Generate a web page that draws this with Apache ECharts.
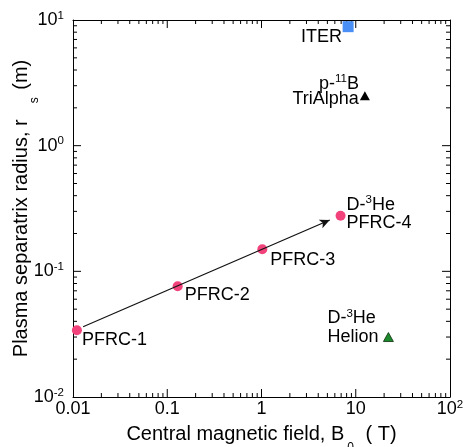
<!DOCTYPE html>
<html>
<head>
<meta charset="utf-8">
<script src="https://cdn.jsdelivr.net/npm/echarts@6/dist/echarts.min.js"></script>
<style>
html, body { margin: 0; padding: 0; background: #fff; }
#chart { width: 463px; height: 447px; }
</style>
</head>
<body>
<div id="chart"></div>
<script>
// values (B0 in T, rs in m)
const pfrcNames = ['PFRC-1', 'PFRC-2', 'PFRC-3', 'PFRC-4'];
const pfrcB = [0.011, 0.129, 1.02, 6.9];
const pfrcR = [0.034, 0.076, 0.150, 0.277];
const iterB = [8.3];
const iterR = [8.85];
const triAlphaB = [12.5];
const triAlphaR = [2.5];
const helionB = [22.2];
const helionR = [0.030];
const arrowB = [0.0128, 5.3];
const arrowR = [0.0362, 0.256];

const xMajor = [0.01, 0.1, 1, 10, 100];
const xTickText = ['0.01', '0.1', '1', '10', '10'];
const xTickSup = ['', '', '', '', '2'];
const yMajor = [0.01, 0.1, 1, 10];
const yTickText = ['10', '10', '10', '10'];
const yTickSup = ['-2', '-1', '0', '1'];

const FONT = 'Liberation Sans, Arial, Helvetica, sans-serif';
const W = 463, H = 447;
const grid = { left: 73, right: 13, top: 20, bottom: 50 };
const pxPerDecX = (W - grid.left - grid.right) / 4;
const pxPerDecY = (H - grid.top - grid.bottom) / 3;

function minorTicks(lo, hi) {
    const out = [];
    for (let d = lo; d < hi * 0.999; d *= 10) {
        for (let m = 2; m <= 9; m++) out.push(+(d * m).toPrecision(3));
    }
    return out;
}

const rich = {
    b: { fontSize: 18, lineHeight: 21, verticalAlign: 'middle', fontFamily: FONT, color: '#000' },
    c: { fontSize: 18, lineHeight: 16, verticalAlign: 'middle', fontFamily: FONT, color: '#000' },
    d: { fontSize: 18, lineHeight: 10, verticalAlign: 'middle', fontFamily: FONT, color: '#000' },
    t: { fontSize: 20, lineHeight: 40, verticalAlign: 'middle', fontFamily: FONT, color: '#000' },
    sup: { fontSize: 11.5, lineHeight: 12, verticalAlign: 'top', fontFamily: FONT, color: '#000' },
    subx: { fontSize: 12, lineHeight: 12, padding: [0, 6, 0, 3], verticalAlign: 'bottom', fontFamily: FONT, color: '#000' },
    suby: { fontSize: 12, lineHeight: 12, padding: [0, 2, 0, 16], verticalAlign: 'bottom', fontFamily: FONT, color: '#000' }
};

function pick(list, vals, v) {
    let best = 0;
    vals.forEach((t, i) => {
        if (Math.abs(Math.log10(t) - Math.log10(v)) < Math.abs(Math.log10(vals[best]) - Math.log10(v))) best = i;
    });
    return list[best];
}
function tickLabel(texts, sups, vals) {
    return v => {
        const t = pick(texts, vals, v), s = pick(sups, vals, v);
        return '{b|' + t + '}' + (s ? '{sup|' + s + '}' : '');
    };
}

const black = '#000';

function xAx(pos, labels) {
    return {
        type: 'log', logBase: 10, min: 0.01, max: 100, position: pos,
        axisLine: { show: true, onZero: false, lineStyle: { color: black, width: 1 } },
        axisTick: { show: false },
        axisLabel: labels ? { show: true, margin: 2, formatter: tickLabel(xTickText, xTickSup, xMajor), rich: rich,
            showMinLabel: true, showMaxLabel: true, hideOverlap: false } : { show: false },
        splitLine: { show: false },
        name: labels ? '{t|Central magnetic field, B}{subx|0}{t| ( T)}' : '',
        nameLocation: 'middle', nameGap: 17, nameMoveOverlap: false,
        nameTextStyle: { rich: rich }
    };
}
function yAx(pos, labels) {
    return {
        type: 'log', logBase: 10, min: 0.01, max: 10, position: pos,
        axisLine: { show: true, onZero: false, lineStyle: { color: black, width: 1 } },
        axisTick: { show: false },
        axisLabel: labels ? { show: true, margin: 9, formatter: tickLabel(yTickText, yTickSup, yMajor), rich: rich,
            showMinLabel: true, showMaxLabel: true, hideOverlap: false } : { show: false },
        splitLine: { show: false },
        name: labels ? '{t|Plasma separatrix radius, r}{suby|s}{t| (m)}' : '',
        nameLocation: 'middle', nameGap: 32, nameRotate: 90, nameMoveOverlap: false,
        nameTextStyle: { rich: rich }
    };
}

// inward ticks on all four sides, drawn as broken line segments on the log scales
function tickSeries(values, dim, lenPx) {
    const out = [];
    if (dim === 'x') {
        const f = Math.pow(10, lenPx / pxPerDecY);
        values.forEach(v => { out.push([v, 0.01], [v, 0.01 * f], [v, '-'], [v, 10], [v, 10 / f], [v, '-']); });
    } else {
        const f = Math.pow(10, lenPx / pxPerDecX);
        values.forEach(v => { out.push([0.01, v], [0.01 * f, v], ['-', v], [100, v], [100 / f, v], ['-', v]); });
    }
    return {
        type: 'line', data: out, symbol: 'none', showSymbol: false, connectNulls: false,
        silent: true, clip: false, z: 1,
        lineStyle: { color: black, width: 1 }
    };
}

const chart = echarts.init(document.getElementById('chart'), null, { renderer: 'canvas' });

const pfrcOffsets = [[5, 10], [7, 9], [8, 11], [6, -3]];
const pfrcData = pfrcB.map((b, i) => ({
    value: [b, pfrcR[i]],
    label: {
        show: true, position: 'inside', align: 'left', verticalAlign: 'middle', offset: pfrcOffsets[i],
        formatter: i === 3 ? '{b|D-}{sup|3}{b|He}\n{c|' + pfrcNames[i] + '}' : '{c|' + pfrcNames[i] + '}',
        rich: rich
    }
}));

const option = {
    animation: false,
    textStyle: { fontFamily: FONT },
    grid: Object.assign({ containLabel: false, outerBoundsMode: 'none' }, grid),
    xAxis: [xAx('bottom', true), xAx('top', false)],
    yAxis: [yAx('left', true), yAx('right', false)],
    series: [
        tickSeries(xMajor.slice(1, -1), 'x', 8),
        tickSeries(minorTicks(0.01, 100), 'x', 4),
        tickSeries(yMajor.slice(1, -1), 'y', 8),
        tickSeries(minorTicks(0.01, 10), 'y', 4),
        {
            type: 'line', data: [], silent: true,
            markLine: {
                silent: true, symbol: ['none', 'arrow'], symbolSize: [7, 10],
                lineStyle: { color: '#111', width: 1.2, type: 'solid' },
                label: { show: false },
                data: [[{ coord: [arrowB[0], arrowR[0]] }, { coord: [arrowB[1], arrowR[1]] }]]
            }
        },
        {
            type: 'scatter', symbol: 'circle', symbolSize: 10,
            itemStyle: { color: '#f2427c', opacity: 1 },
            data: pfrcData, z: 3
        },
        {
            type: 'scatter', symbol: 'rect', symbolSize: 11,
            itemStyle: { color: '#4a8ff5', opacity: 1 },
            data: iterB.map((b, i) => [b, iterR[i]]),
            label: { show: true, position: 'inside', align: 'right', verticalAlign: 'middle', offset: [-6, 10],
                formatter: '{c|ITER}', rich: rich }
        },
        {
            type: 'scatter', symbol: 'triangle', symbolSize: [10, 9],
            itemStyle: { color: '#000', opacity: 1 },
            data: triAlphaB.map((b, i) => [b, triAlphaR[i]]),
            label: { show: true, position: 'inside', align: 'right', verticalAlign: 'middle', offset: [-6, -7],
                formatter: '{b|p-}{sup|11}{b|B}\n{d|TriAlpha}', rich: rich }
        },
        {
            type: 'scatter', symbol: 'triangle', symbolSize: [10, 9],
            itemStyle: { color: '#1c8a2c', borderColor: '#0b300b', borderWidth: 0.8, opacity: 1 },
            data: helionB.map((b, i) => [b, helionR[i]]),
            label: { show: true, position: 'inside', align: 'left', verticalAlign: 'middle', offset: [-61, -11],
                formatter: '{b|D-}{sup|3}{b|He}\n{c|Helion}', rich: rich }
        }
    ]
};

chart.setOption(option);
</script>
</body>
</html>
